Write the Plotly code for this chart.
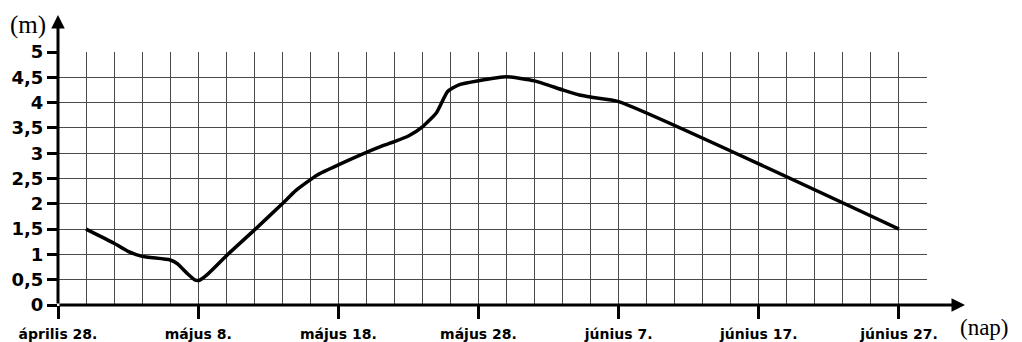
import plotly.graph_objects as go

# days since "április 28." and water level (m)
days = [2, 4, 5, 6, 8, 8.5, 9.2, 9.8, 10.1, 10.6, 12, 14, 16, 17, 18.5, 20, 23, 24, 25, 26,
        27, 27.8, 28.6, 30, 32, 34, 36, 37.2, 38.2, 40, 60]
level = [1.5, 1.22, 1.06, 0.96, 0.89, 0.82, 0.63, 0.49, 0.49, 0.59, 0.97, 1.48, 2.0, 2.27, 2.57, 2.77, 3.13, 3.23, 3.34, 3.52,
         3.8, 4.22, 4.35, 4.43, 4.51, 4.43, 4.25, 4.15, 4.10, 4.02, 1.5]

x_tickvals = [0, 10, 20, 30, 40, 50, 60]
x_ticktext = ["április 28.", "május 8.", "május 18.", "május 28.", "június 7.", "június 17.", "június 27."]
y_tickvals = [0, 0.5, 1, 1.5, 2, 2.5, 3, 3.5, 4, 4.5, 5]
y_ticktext = ["0", "0,5", "1", "1,5", "2", "2,5", "3", "3,5", "4", "4,5", "5"]

fig = go.Figure()
fig.add_trace(go.Scatter(x=days, y=level, mode="lines",
                         line=dict(color="black", width=3.5, shape="spline", smoothing=0.5),
                         hoverinfo="skip", showlegend=False))

grid_col = "#4a4a4a"
fig.update_layout(
    width=1014, height=334,
    margin=dict(l=50, r=95, t=44, b=37),
    plot_bgcolor="white", paper_bgcolor="white",
    xaxis=dict(range=[0, 62], tickvals=x_tickvals, ticktext=x_ticktext,
               showgrid=True, gridcolor=grid_col, gridwidth=1.3,
               minor=dict(dtick=2, tick0=0, showgrid=True, gridcolor=grid_col, gridwidth=1.3),
               ticks="outside", ticklen=13, tickwidth=2.5, tickcolor="black",
               ticklabelstandoff=3,
               tickfont=dict(family="DejaVu Sans", size=14, color="black", weight="bold"),
               showline=False, zeroline=False, fixedrange=True, automargin=False),
    yaxis=dict(range=[0, 5], tickvals=y_tickvals, ticktext=y_ticktext,
               showgrid=True, gridcolor=grid_col, gridwidth=1.3,
               ticks="outside", ticklen=10, tickwidth=2.5, tickcolor="black",
               tickfont=dict(family="DejaVu Sans", size=18, color="black", weight="bold"),
               showline=False, zeroline=False, fixedrange=True, automargin=False),
    annotations=[
        # y axis with arrow
        dict(xref="paper", yref="paper", x=0, y=1.146, ax=0, ay=290, axref="pixel", ayref="pixel",
             showarrow=True, arrowhead=2, arrowsize=0.9, arrowwidth=3, arrowcolor="black", text="",
             standoff=0, startstandoff=0),
        # x axis with arrow
        dict(xref="paper", yref="paper", x=1.0437, y=0, ax=-907, ay=0, axref="pixel", ayref="pixel",
             showarrow=True, arrowhead=2, arrowsize=0.9, arrowwidth=3, arrowcolor="black", text="",
             standoff=0, startstandoff=0),
        dict(xref="paper", yref="paper", x=-0.035, y=1.107, xanchor="center", yanchor="middle",
             text="(m)", showarrow=False,
             font=dict(family="Liberation Serif", size=25, color="black")),
        dict(xref="paper", yref="paper", x=1.0656, y=-0.087, xanchor="center", yanchor="middle",
             text="(nap)", showarrow=False,
             font=dict(family="Liberation Serif", size=23, color="black")),
    ],
)

fig.write_html("out.html")
